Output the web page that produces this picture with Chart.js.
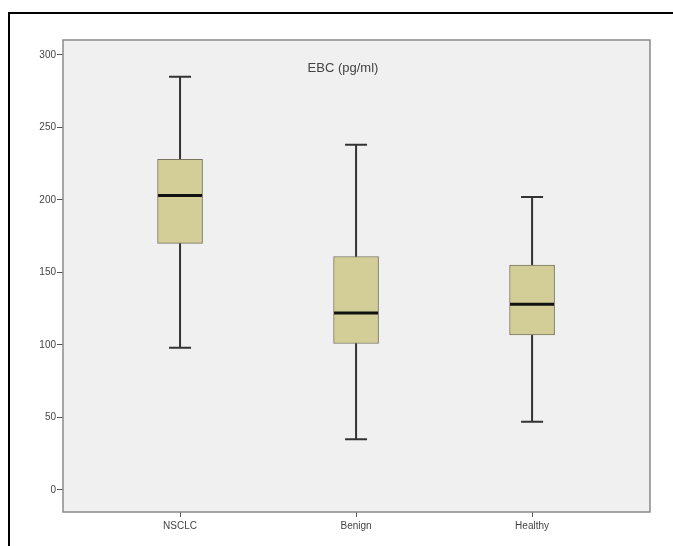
<!DOCTYPE html>
<html>
<head>
<meta charset="utf-8">
<script src="https://cdn.jsdelivr.net/npm/chart.js@4/dist/chart.umd.min.js"></script>
<style>
  html, body { margin: 0; padding: 0; background: #fff; }
  #wrap { width: 673px; height: 546px; }
</style>
</head>
<body>
<div id="wrap"><canvas id="chart" width="673" height="546"></canvas></div>
<script>
const categories = ["NSCLC", "Benign", "Healthy"];
const whiskerLow = [98, 35, 47];
const q1 = [170, 101, 107];
const median = [203, 122, 128];
const q3 = [228, 161, 155];
const whiskerHigh = [285, 238, 202];
const yTicks = [0, 50, 100, 150, 200, 250, 300];

const boxes = categories.map((c, i) => ({ x: i + 1, y: [q1[i], q3[i]] }));

// frame, plot background and border
const frame = {
  id: "frame",
  beforeDraw(chart) {
    const { ctx, chartArea: a } = chart;
    ctx.save();
    ctx.fillStyle = "#f0f0f0";
    ctx.fillRect(a.left, a.top, a.right - a.left, a.bottom - a.top);
    ctx.strokeStyle = "#000";
    ctx.lineWidth = 2;
    ctx.beginPath();
    ctx.moveTo(673, 13);
    ctx.lineTo(9, 13);
    ctx.lineTo(9, 546);
    ctx.stroke();
    ctx.restore();
  },
  afterDraw(chart) {
    const { ctx, chartArea: a } = chart;
    ctx.save();
    ctx.strokeStyle = "#8a8a8a";
    ctx.lineWidth = 1.5;
    ctx.strokeRect(a.left, a.top, a.right - a.left, a.bottom - a.top);
    ctx.fillStyle = "#444";
    ctx.font = "13px 'Liberation Sans', Arial, sans-serif";
    ctx.textAlign = "center";
    ctx.textBaseline = "middle";
    ctx.fillText("EBC (pg/ml)", 343, 68);
    ctx.restore();
  }
};

// whiskers behind the boxes, medians on top
const whiskers = {
  id: "whiskers",
  beforeDatasetsDraw(chart) {
    const { ctx, scales: { x, y } } = chart;
    ctx.save();
    ctx.strokeStyle = "#333";
    ctx.lineWidth = 2;
    categories.forEach((c, i) => {
      const cx = x.getPixelForValue(i + 1);
      const half = 11;
      const lo = y.getPixelForValue(whiskerLow[i]);
      const hi = y.getPixelForValue(whiskerHigh[i]);
      ctx.beginPath();
      ctx.moveTo(cx, lo); ctx.lineTo(cx, hi);
      ctx.moveTo(cx - half, lo); ctx.lineTo(cx + half, lo);
      ctx.moveTo(cx - half, hi); ctx.lineTo(cx + half, hi);
      ctx.stroke();
    });
    ctx.restore();
  },
  afterDatasetsDraw(chart) {
    const { ctx, scales: { x, y } } = chart;
    ctx.save();
    ctx.strokeStyle = "#111";
    ctx.lineWidth = 3;
    categories.forEach((c, i) => {
      const cx = x.getPixelForValue(i + 1);
      const m = y.getPixelForValue(median[i]);
      ctx.beginPath();
      ctx.moveTo(cx - 22, m); ctx.lineTo(cx + 22, m);
      ctx.stroke();
    });
    ctx.restore();
  }
};

new Chart(document.getElementById("chart"), {
  type: "bar",
  data: {
    datasets: [{
      data: boxes,
      backgroundColor: "#d3ce98",
      borderColor: "#77755f",
      borderWidth: 1,
      borderSkipped: false,
      barThickness: 45
    }]
  },
  options: {
    responsive: false,
    animation: false,
    layout: { padding: { top: 40, right: 23, left: 0, bottom: 0 } },
    plugins: { legend: { display: false }, tooltip: { enabled: false } },
    scales: {
      x: {
        type: "linear",
        offset: false,
        min: 0.335,
        max: 3.67,
        afterBuildTicks: s => { s.ticks = categories.map((c, i) => ({ value: i + 1 })); },
        afterFit: s => { s.height = 34; },
        ticks: {
          callback: v => categories[v - 1] || "",
          color: "#444",
          font: { family: "'Liberation Sans', Arial, sans-serif", size: 10 },
          padding: 3,
          maxRotation: 0
        },
        grid: { offset: false, drawOnChartArea: false, tickLength: 5, color: "#555", tickWidth: 1 },
        border: { display: false }
      },
      y: {
        min: -15.2,
        max: 310.3,
        afterBuildTicks: s => { s.ticks = yTicks.map(v => ({ value: v })); },
        afterFit: s => { s.width = 63; },
        ticks: {
          color: "#444",
          font: { family: "'Liberation Sans', Arial, sans-serif", size: 10 },
          padding: 1
        },
        grid: { drawOnChartArea: false, tickLength: 6, color: "#555", tickWidth: 1 },
        border: { display: false }
      }
    }
  },
  plugins: [frame, whiskers]
});
</script>
</body>
</html>
